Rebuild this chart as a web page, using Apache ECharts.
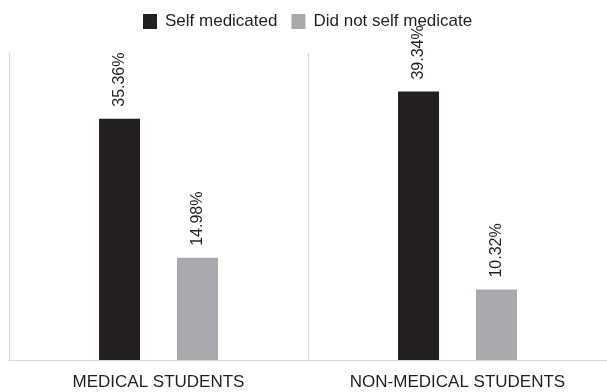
<!DOCTYPE html>
<html><head><meta charset="utf-8">
<script src="https://cdn.jsdelivr.net/npm/echarts@6/dist/echarts.min.js"></script>
<style>html,body{margin:0;padding:0;background:#fff}#c{width:607px;height:392px}</style>
</head><body><div id="c"></div>
<script>
const categories = ["MEDICAL STUDENTS", "NON-MEDICAL STUDENTS"];
const seriesNames = ["Self medicated", "Did not self medicate"];
const selfMedicated = [35.36, 39.34];
const notSelfMedicated = [14.98, 10.32];

const chart = echarts.init(document.getElementById('c'), null, {renderer: 'canvas'});
const font = '"Liberation Sans", Arial, sans-serif';
const labelCfg = {
  show: true, position: 'top', rotate: 90, align: 'left', verticalAlign: 'middle',
  distance: 12, fontSize: 16, color: '#231f20', fontFamily: font,
  formatter: p => p.value.toFixed(2) + '%'
};
chart.setOption({
  animation: false,
  textStyle: {fontFamily: font},
  legend: {
    top: 13, left: 143, itemWidth: 14, itemHeight: 15, itemGap: 14,
    icon: 'rect', padding: 0,
    textStyle: {fontSize: 17, color: '#231f20', fontFamily: font, padding: [0, 0, 0, 3]},
    data: seriesNames
  },
  grid: {left: 9, right: 0, top: 53, bottom: 32},
  xAxis: {
    type: 'category', data: categories,
    axisLine: {lineStyle: {color: '#d9d9d9'}},
    axisTick: {show: false},
    splitLine: {show: true, lineStyle: {color: '#d9d9d9'}},
    axisLabel: {fontSize: 17, color: '#231f20', margin: 14, fontFamily: font}
  },
  yAxis: {type: 'value', min: 0, max: 45, show: false, splitLine: {show: false}},
  series: [
    {name: seriesNames[0], type: 'bar', data: selfMedicated, barWidth: 41, barGap: '90%',
     itemStyle: {color: '#231f20'}, label: labelCfg},
    {name: seriesNames[1], type: 'bar', data: notSelfMedicated, barWidth: 41,
     itemStyle: {color: '#a7a9ac'}, label: labelCfg}
  ]
});
</script></body></html>
